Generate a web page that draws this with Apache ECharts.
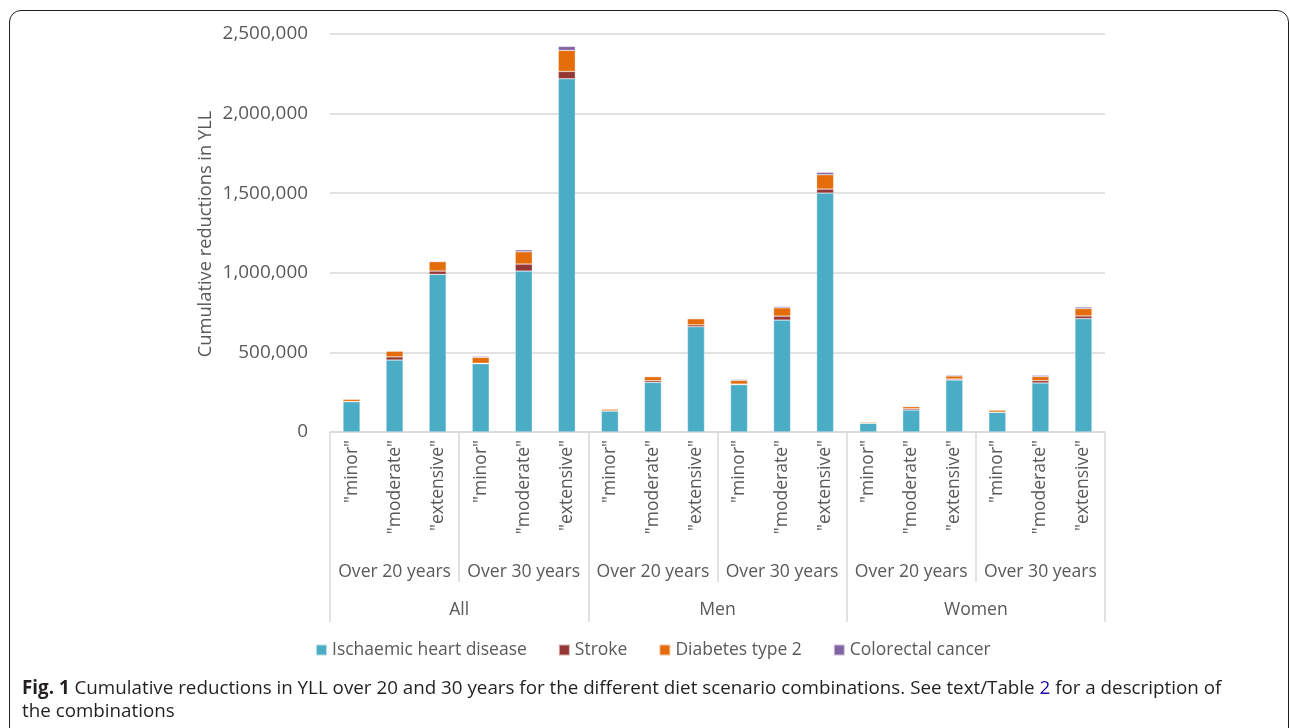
<!DOCTYPE html>
<html>
<head>
<meta charset="utf-8">
<script src="https://cdn.jsdelivr.net/npm/echarts@6/dist/echarts.min.js"></script>
<style>
  html, body { margin: 0; padding: 0; background: #fff; width: 1290px; height: 728px; overflow: hidden; }
  #frame { position: absolute; left: 9px; top: 10px; width: 1280px; height: 740px; border: 1.5px solid #231f20; border-radius: 12px; box-sizing: border-box; }
  #chart { position: absolute; left: 0; top: 0; width: 1290px; height: 728px; }
  #caption { position: absolute; left: 22px; top: 676px; font-family: "Open Sans", sans-serif; font-size: 18.8px; line-height: 23px; color: #231f20; white-space: nowrap; }
  #caption b { font-weight: 700; }
  #caption a { color: #1a0dab; text-decoration: none; }
</style>
</head>
<body>
<div id="frame"></div>
<div id="chart"></div>
<div id="caption"><b>Fig. 1</b> Cumulative reductions in YLL over 20 and 30 years for the different diet scenario combinations. See text/Table <a>2</a> for a description of<br>the combinations</div>
<script>
const scenarioLabels = ['"minor"','"moderate"','"extensive"','"minor"','"moderate"','"extensive"',
  '"minor"','"moderate"','"extensive"','"minor"','"moderate"','"extensive"',
  '"minor"','"moderate"','"extensive"','"minor"','"moderate"','"extensive"'];
const periodLabels = ['Over 20 years','Over 30 years','Over 20 years','Over 30 years','Over 20 years','Over 30 years'];
const groupLabels = ['All','Men','Women'];
const seriesNames = ['Ischaemic heart disease','Stroke','Diabetes type 2','Colorectal cancer'];
const ihd = [190000,452000,990000,429000,1011000,2219000, 132000,312000,661000,297000,703000,1501000, 55000,138000,327000,124000,308000,712000];
const stroke = [2000,20000,21000,3000,44000,46000, 1000,10000,12000,4000,25000,25000, 1000,8000,6000,1000,15000,17000];
const diabetes = [14000,36000,59000,37000,77000,132000, 11000,25000,38000,23000,52000,90000, 7000,13000,19000,13000,25000,46000];
const colorectal = [2000,2000,4000,6000,12000,25000, 1000,4000,4000,6000,8000,15000, 1000,4000,6000,1000,8000,10000];
const yTicks = [0,500000,1000000,1500000,2000000,2500000];

const colors = ['#4BACC6','#953735','#E46C0A','#8064A2'];
const font = '"Open Sans", sans-serif';
const gray = '#595959';
const lineGray = '#d9d9d9';

const chart = echarts.init(document.getElementById('chart'), null, {renderer: 'canvas'});
const dataSets = [ihd, stroke, diabetes, colorectal];
chart.setOption({
  animation: false,
  color: colors,
  textStyle: { fontFamily: font },
  grid: { left: 330, right: 185, top: 34, bottom: 296, containLabel: false },
  legend: {
    data: seriesNames,
    left: 310, top: 636,
    icon: 'rect', itemWidth: 11, itemHeight: 11, itemGap: 31,
    textStyle: { fontFamily: font, fontSize: 17.5, color: gray }
  },
  graphic: [{
    type: 'text', x: 206, y: 234, rotation: Math.PI / 2,
    style: { text: 'Cumulative reductions in YLL', font: '18.3px "Open Sans", sans-serif', fill: gray, align: 'center', verticalAlign: 'middle' }
  }],
  xAxis: [
    {
      type: 'category', data: scenarioLabels, position: 'bottom',
      axisLine: { show: true, lineStyle: { color: lineGray, width: 1.5 } },
      axisTick: { show: false },
      axisLabel: { interval: 0, rotate: 90, margin: 8, fontSize: 17.5, color: gray, fontFamily: font }
    },
    {
      type: 'category', data: periodLabels, position: 'bottom',
      axisLine: { show: false },
      axisTick: { show: true, interval: 0, length: 150, lineStyle: { color: lineGray, width: 1.5 } },
      axisLabel: { interval: 0, margin: 131, fontSize: 17.6, color: gray, fontFamily: font }
    },
    {
      type: 'category', data: groupLabels, position: 'bottom',
      axisLine: { show: false },
      axisTick: { show: true, interval: 0, length: 190, lineStyle: { color: lineGray, width: 1.5 } },
      axisLabel: { interval: 0, margin: 169, fontSize: 17.6, color: gray, fontFamily: font }
    }
  ],
  yAxis: {
    type: 'value', min: yTicks[0], max: yTicks[yTicks.length - 1], interval: 500000,
    axisLine: { show: false }, axisTick: { show: false },
    splitLine: { lineStyle: { color: lineGray, width: 1.5 } },
    axisLabel: { margin: 22, fontSize: 18.9, color: gray, fontFamily: font,
      formatter: v => v.toLocaleString('en-US') }
  },
  series: seriesNames.map((name, i) => ({
    name: name, type: 'bar', stack: 'total', xAxisIndex: 0, barWidth: 17,
    itemStyle: { color: colors[i], borderColor: 'rgba(255,255,255,0.6)', borderWidth: 0.5 },
    data: dataSets[i]
  }))
});
</script>
</body>
</html>
